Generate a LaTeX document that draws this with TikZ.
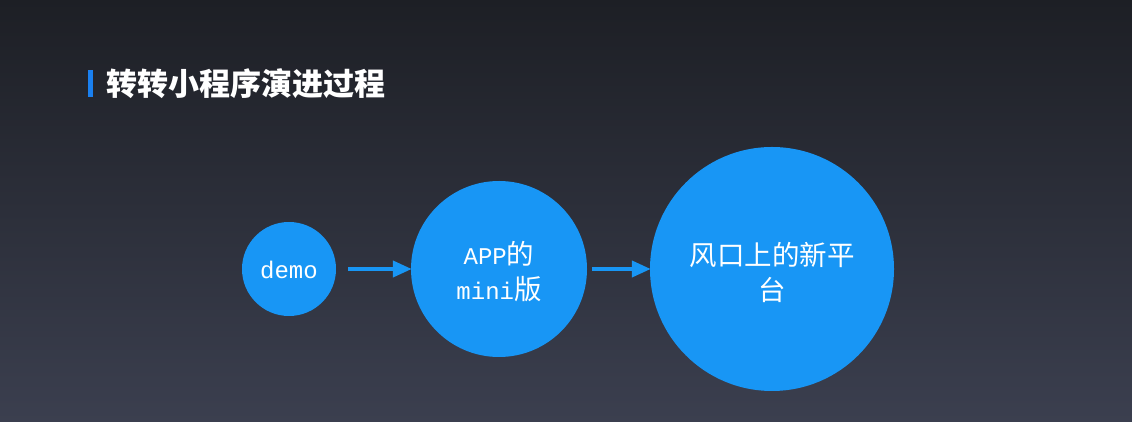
\documentclass[tikz,border=0pt]{standalone}
\usepackage{fontspec}
\usetikzlibrary{arrows.meta}
\newfontfamily\cjk{Noto Sans CJK SC}
\newfontfamily\latmono{Liberation Mono}
\definecolor{circblue}{RGB}{24,150,245}
\definecolor{barblue}{RGB}{26,128,240}
\definecolor{bgtop}{RGB}{29,31,37}
\definecolor{bgbot}{RGB}{59,63,79}
\tikzset{
  bubble/.style={circle, fill=circblue, draw=none, inner sep=0pt},
  bubbletext/.style={inner sep=0pt, text=white, align=center,
    font=\fontsize{27.5}{35}\selectfont},
  flow/.style={draw=circblue, line width=4pt, -{Triangle[length=19pt,width=16pt]}}
}
\newcommand{\lm}[1]{{\latmono\fontsize{24}{35}\selectfont #1}}
\begin{document}
\begin{tikzpicture}[x=1pt,y=1pt]
\shade[top color=bgtop, bottom color=bgbot] (0,0) rectangle (1132,422);
\useasboundingbox (0,0) rectangle (1132,422);
% title
\fill[barblue] (88,325) rectangle (93,352);
\node[anchor=west, inner sep=0pt, text=white, font=\cjk\bfseries\fontsize{31}{34}\selectfont] (title) at (106,338) {转转小程序演进过程};
% circles
\node[bubble, minimum size=94pt] (demo) at (289,153) {};
\node[bubble, minimum size=176pt] (app) at (499,153) {};
\node[bubble, minimum size=244pt] (big) at (772,153) {};
\node[bubbletext] (demotext) at (289,152) {\lm{demo}};
\node[bubbletext] (apptext) at (499,150) {\lm{APP}{\cjk 的}\\\lm{mini}{\cjk 版}};
\node[bubbletext] (bigtext) at (772,150) {{\cjk 风口上的新平}\\{\cjk 台}};
% arrows
\draw[flow] ([xshift=12pt]demo.east) -- ([xshift=1pt]app.west);
\draw[flow] ([xshift=5pt]app.east) -- ([xshift=1pt]big.west);
\end{tikzpicture}
\end{document}
